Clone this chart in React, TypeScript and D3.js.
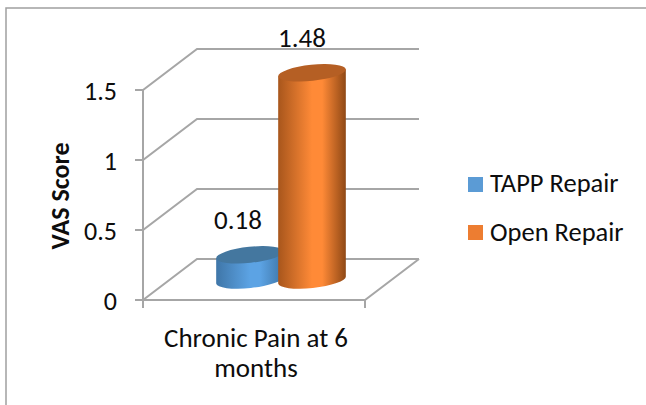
import React from "react";
import * as d3 from "d3";

const yTicks = [0, 0.5, 1, 1.5];
const seriesNames = ["TAPP Repair", "Open Repair"];
const seriesValues = [0.18, 1.48];
const seriesLabels = ["0.18", "1.48"];
const sideColors = [["#3f76a8", "#5ca3e4", "#3d74a6"], ["#a8561c", "#ff8a37", "#8f4815"]];
const topColors = ["#44779f", "#b55f24"];
const legendColors = ["#5b9bd5", "#ed7d31"];

const FONT = "Carlito, Lato, sans-serif";

function Cylinder({ i, cx, rx, baseY, topY }: any) {
  const ry = 8;
  const tilt = -6;
  const a = (tilt * Math.PI) / 180;
  const dx = rx * Math.cos(a);
  const dy = rx * Math.sin(a);
  const side = `M${cx - dx},${topY - dy} L${cx - dx},${baseY - dy} A${rx},${ry} ${tilt} 0 0 ${cx + dx},${baseY + dy} L${cx + dx},${topY + dy} Z`;
  const id = `grad${i}`;
  const stops = sideColors[i];
  return (
    <g>
      <defs>
        <linearGradient id={id} x1="0" x2="1" y1="0" y2="0">
          <stop offset="0" stopColor={stops[0]} />
          <stop offset="0.5" stopColor={stops[1]} />
          <stop offset="0.65" stopColor={stops[1]} />
          <stop offset="1" stopColor={stops[2]} />
        </linearGradient>
      </defs>
      <path d={side} fill={`url(#${id})`} />
      <ellipse cx={cx} cy={topY} rx={rx} ry={ry} fill={topColors[i]} transform={`rotate(${tilt} ${cx} ${topY})`} />
    </g>
  );
}

export default function App() {
  const y = d3.scaleLinear().domain([0, 1.5]).range([300, 90]);
  const x0 = 143;
  const x1 = 365;
  const dx = 54;
  const dy = -41;
  const barX = d3.scalePoint().domain(seriesNames).range([250, 312]);
  const rx = 34;
  const baseY = 280;
  const h = (v: number) => y(0) - y(v);
  const stroke = "#a6a6a6";
  const ink = "#0d0d0d";
  return (
    <svg width={646} height={405} style={{ position: "absolute", left: 0, top: 0, fontFamily: FONT }}>
      <path d="M6,405 V8 H646" fill="none" stroke="#a0a0a0" strokeWidth={1.5} />
      {yTicks.map((t) => (
        <g key={t} fill="none" stroke={stroke} strokeWidth={2}>
          <path d={`M${x0 - 8},${y(t)} H${x0} L${x0 + dx},${y(t) + dy} H${x1 + dx}`} />
        </g>
      ))}
      <path d={`M${x0},${y(1.5)} V${y(0) + 8}`} fill="none" stroke={stroke} strokeWidth={2} />
      <path d={`M${x0},${y(0)} H${x1} L${x1 + dx},${y(0) + dy}`} fill="none" stroke={stroke} strokeWidth={2} />
      <path d={`M${x1},${y(0)} V${y(0) + 8}`} fill="none" stroke={stroke} strokeWidth={2} />
      {seriesNames.map((n, i) => (
        <Cylinder key={n} i={i} cx={barX(n)!} rx={rx} baseY={baseY} topY={baseY - h(seriesValues[i])} />
      ))}
      {yTicks.map((t) => (
        <text key={t} x={117} y={y(t) + 10} textAnchor="end" fontSize={26} fill={ink}>{t}</text>
      ))}
      <text transform="translate(69,196) rotate(-90)" textAnchor="middle" fontSize={26} fontWeight={700} fill={ink}>VAS Score</text>
      {seriesNames.map((n, i) => (
        <text key={n} x={i === 0 ? 238 : 302} y={i === 0 ? 229 : 47} textAnchor="middle" fontSize={27} fill={ink}>{seriesLabels[i]}</text>
      ))}
      <text x={256} y={347} textAnchor="middle" fontSize={27} fill={ink}>Chronic Pain at 6</text>
      <text x={256} y={377} textAnchor="middle" fontSize={27} fill={ink}>months</text>
      {seriesNames.map((n, i) => (
        <g key={n}>
          <rect x={468} y={177 + i * 48} width={15} height={15} fill={legendColors[i]} />
          <text x={490} y={192 + i * 49} fontSize={26.5} fill={ink}>{n}</text>
        </g>
      ))}
    </svg>
  );
}
